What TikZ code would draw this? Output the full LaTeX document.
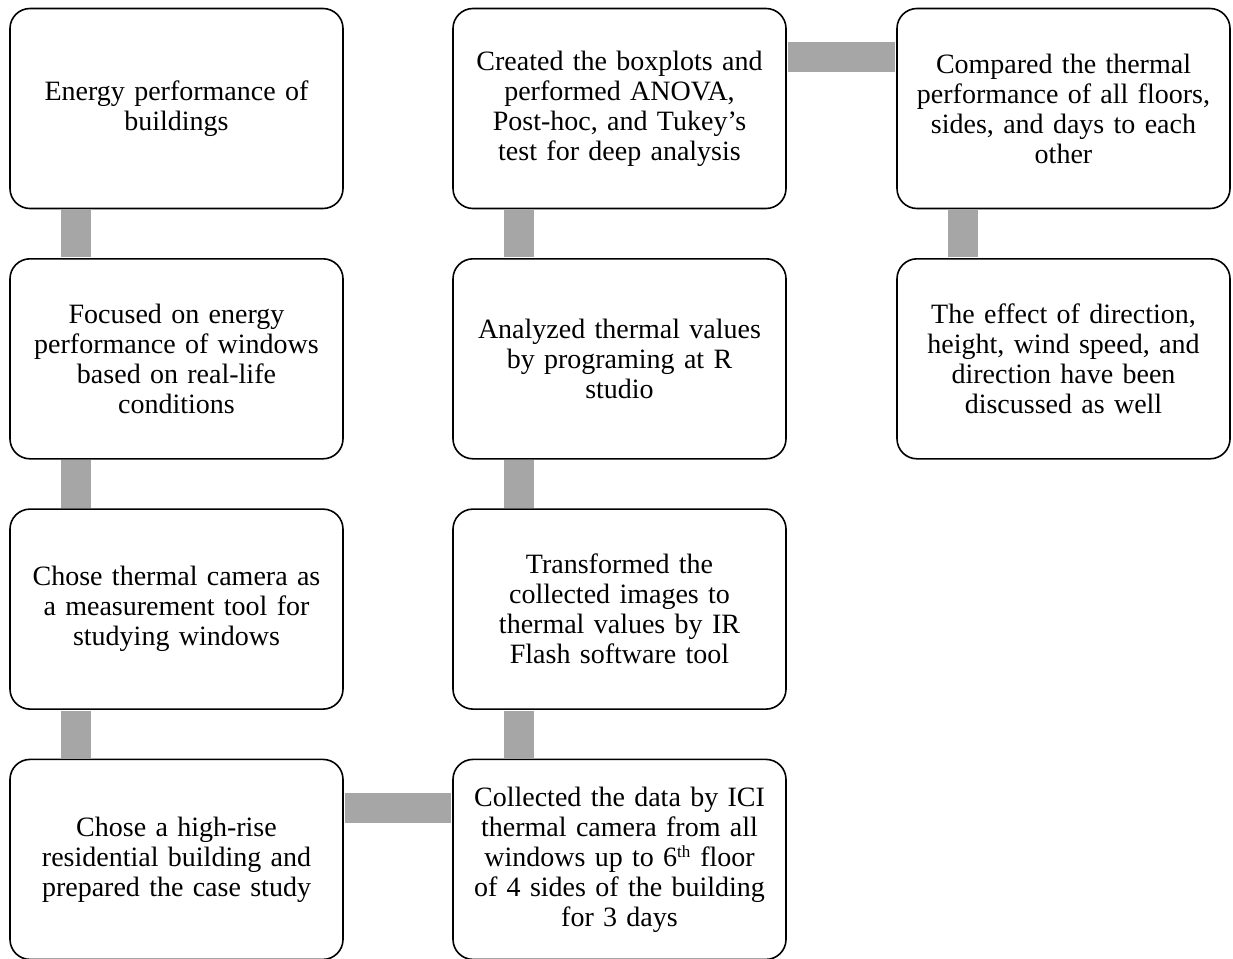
\documentclass[tikz,border=0pt]{standalone}
\usepackage{fontspec}
\setmainfont{Liberation Serif}
\usepackage{tikz}

\tikzset{
  stepbox/.style={draw, line width=1.6pt, rounded corners=20pt, fill=white,
    minimum width=333pt, minimum height=200pt, text width=325pt, align=center,
    font=\fontsize{28}{30}\selectfont},
  bar/.style={draw=gray!70, line width=30pt}
}

\begin{document}
\begin{tikzpicture}[x=1pt, y=-1pt]
    \useasboundingbox (0,0) rectangle (1233,958);

    % First column
    \node[stepbox] (perf) at (176.5,108.5) {Energy performance of\\ buildings};
    \node[stepbox] (win) at (176.5,358.8) {Focused on energy\\ performance of windows\\ based on real-life\\ conditions};
    \node[stepbox] (cam) at (176.5,609.1) {Chose thermal camera as\\ a measurement tool for\\ studying windows};
    \node[stepbox] (case) at (176.5,859.4) {Chose a high-rise\\ residential building and\\ prepared the case study};

    % Second column
    \node[stepbox] (anova) at (619.5,108.5) {Created the boxplots and\\ performed ANOVA,\\ Post-hoc, and Tukey's\\ test for deep analysis};
    \node[stepbox] (rstudio) at (619.5,358.8) {Analyzed thermal values\\ by programing at R\\ studio};
    \node[stepbox] (irflash) at (619.5,609.1) {Transformed the\\ collected images to\\ thermal values by IR\\ Flash software tool};
    \node[stepbox] (data) at (619.5,859.4) {Collected the data by ICI\\ thermal camera from all\\ windows up to 6\textsuperscript{\fontsize{17}{17}\selectfont th} floor\\ of 4 sides of the building\\ for 3 days};

    % Third column
    \node[stepbox] (compare) at (1063.5,108.5) {Compared the thermal\\ performance of all floors,\\ sides, and days to each\\ other};
    \node[stepbox] (effect) at (1063.5,358.8) {The effect of direction,\\ height, wind speed, and\\ direction have been\\ discussed as well};

    % Bars between the boxes
    \draw[bar] ([xshift=67pt, yshift=-0.8pt]perf.south west) -- ([xshift=67pt, yshift=0.8pt]win.north west);
    \draw[bar] ([xshift=67pt, yshift=-0.8pt]win.south west) -- ([xshift=67pt, yshift=0.8pt]cam.north west);
    \draw[bar] ([xshift=67pt, yshift=-0.8pt]cam.south west) -- ([xshift=67pt, yshift=0.8pt]case.north west);
    \draw[bar] ([yshift=-49pt, xshift=0.8pt]case.north east) -- ([yshift=-49pt, xshift=-0.8pt]data.north west);
    \draw[bar] ([xshift=67pt, yshift=0.8pt]data.north west) -- ([xshift=67pt, yshift=-0.8pt]irflash.south west);
    \draw[bar] ([xshift=67pt, yshift=0.8pt]irflash.north west) -- ([xshift=67pt, yshift=-0.8pt]rstudio.south west);
    \draw[bar] ([xshift=67pt, yshift=0.8pt]rstudio.north west) -- ([xshift=67pt, yshift=-0.8pt]anova.south west);
    \draw[bar] ([yshift=-49pt, xshift=0.8pt]anova.north east) -- ([yshift=-49pt, xshift=-0.8pt]compare.north west);
    \draw[bar] ([xshift=67pt, yshift=-0.8pt]compare.south west) -- ([xshift=67pt, yshift=0.8pt]effect.north west);
\end{tikzpicture}
\end{document}
